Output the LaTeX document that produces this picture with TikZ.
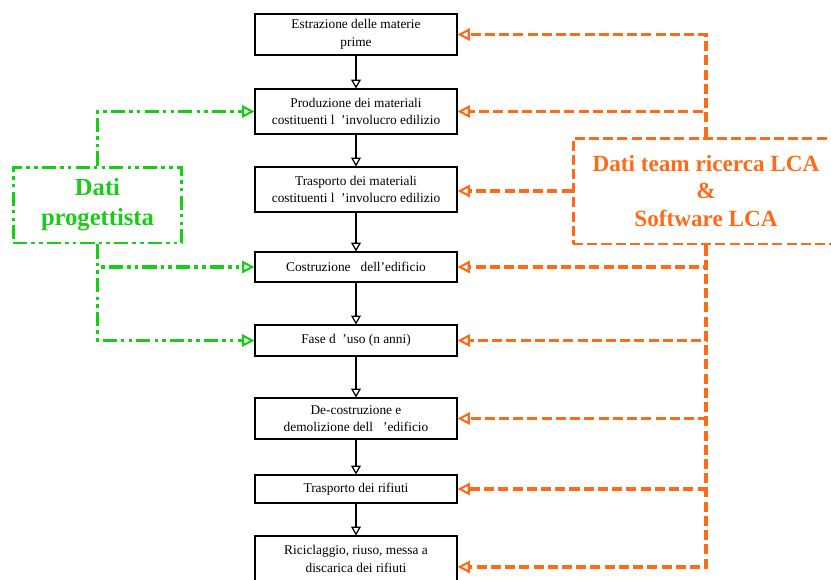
\documentclass[tikz,border=0pt]{standalone}
\usepackage{fontspec}
\setmainfont{Liberation Serif}
\usetikzlibrary{arrows.meta}

\definecolor{lcaorange}{RGB}{255,106,25}
\definecolor{proggreen}{RGB}{24,204,24}

\tikzset{
  phase/.style={draw, line width=0.6pt, minimum width=4.04cm, align=center,
    inner sep=1pt, font=\fontsize{7.6}{10}\selectfont},
  flow/.style={line width=0.9pt, -{Triangle[open,length=5pt,width=5.5pt,line width=0.7pt]}},
  lcaline/.style={draw=lcaorange, line width=2pt, dash pattern=on 5.7pt off 2.4pt,
    -{Triangle[open,length=7pt,width=7pt,line width=1.2pt]}},
  progline/.style={draw=proggreen, line width=2pt,
    dash pattern=on 8pt off 2.4pt on 2pt off 2.4pt on 2pt off 2.4pt,
    -{Triangle[open,length=7pt,width=7pt,line width=1.2pt]}},
  lcabox/.style={draw=lcaorange, line width=1.7pt, dash pattern=on 5.7pt off 2.4pt,
    text=lcaorange, font=\bfseries\fontsize{13.2}{15.8}\selectfont, align=center,
    minimum width=5.32cm, minimum height=2.12cm, inner sep=0pt},
  progbox/.style={draw=proggreen, line width=1.7pt,
    dash pattern=on 8pt off 2.4pt on 2pt off 2.4pt on 2pt off 2.4pt,
    text=proggreen, font=\bfseries\fontsize{14}{17}\selectfont, align=center,
    minimum width=3.38cm, minimum height=1.52cm, inner sep=0pt}
}

\begin{document}
\begin{tikzpicture}[x=0.02cm,y=-0.02cm]

\useasboundingbox (0,0) rectangle (831,579);
\clip (0,0) rectangle (831,579);

% life cycle phases
\node [phase, minimum height=0.82cm] (estr) at (356,34.5) {Estrazione delle materie\\prime};
\node [phase, minimum height=0.9cm] (prod) at (356,111.5) {Produzione dei materiali\\costituenti l\ \ 'involucro edilizio};
\node [phase, minimum height=0.9cm] (trasp) at (356,189.5) {Trasporto dei materiali\\costituenti l\ \ 'involucro edilizio};
\node [phase, minimum height=0.6cm] (costr) at (356,267) {Costruzione\ \ \ dell'edificio};
\node [phase, minimum height=0.62cm] (uso) at (356,340.5) {Fase d\ \ 'uso (n anni)};
\node [phase, minimum height=0.82cm] (demol) at (356,418.5) {De-costruzione e\\demolizione dell\ \ \ 'edificio};
\node [phase, minimum height=0.56cm] (trrif) at (356,489) {Trasporto dei rifiuti};
\node [phase, minimum height=0.92cm] (ricic) at (356,559) {Riciclaggio, riuso, messa a\\discarica dei rifiuti};

\draw [flow] (estr) -- (prod);
\draw [flow] (prod) -- (trasp);
\draw [flow] (trasp) -- (costr);
\draw [flow] (costr) -- (uso);
\draw [flow] (uso) -- (demol);
\draw [flow] (demol) -- (trrif);
\draw [flow] (trrif) -- (ricic);

% data sources
\node [progbox] (prog) at (97.5,205) {Dati\\progettista};
\node [lcabox] (lca) at (706,191) {Dati team ricerca LCA\\\&\\Software LCA};

\draw [progline] (prog.north) |- (prod.west);
\draw [progline] (prog.south) |- (costr.west);
\draw [progline] (prog.south) |- (uso.west);

\draw [lcaline] (lca.north) |- (estr.east);
\draw [lcaline] (lca.north) |- (prod.east);
\draw [lcaline] (lca.west) -- (lca.west -| trasp.east);
\draw [lcaline] (lca.south) |- (costr.east);
\draw [lcaline] (lca.south) |- (uso.east);
\draw [lcaline] (lca.south) |- (demol.east);
\draw [lcaline] (lca.south) |- (trrif.east);
\draw [lcaline] (lca.south) |- ([yshift=-4.5pt]ricic.east);

\end{tikzpicture}
\end{document}
